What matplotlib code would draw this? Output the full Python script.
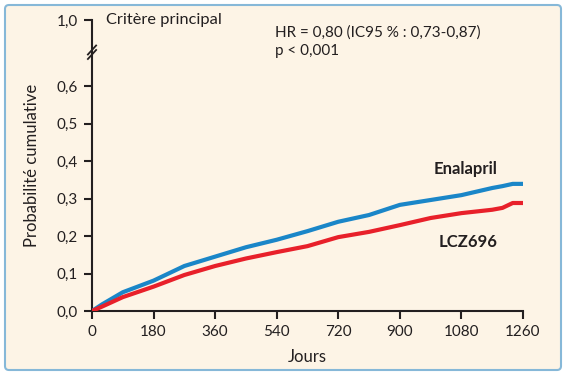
import matplotlib
matplotlib.use("Agg")
import matplotlib.pyplot as plt
from matplotlib.patches import FancyBboxPatch

# valeurs
jours = [0, 30, 90, 180, 270, 360, 450, 540, 630, 720, 810, 900, 990, 1080, 1170, 1200, 1230, 1260]
enalapril = [0.0, 0.018, 0.05, 0.081, 0.12, 0.145, 0.17, 0.19, 0.213, 0.238, 0.256, 0.283, 0.296, 0.309, 0.328, 0.333, 0.339, 0.339]
lcz696 = [0.0, 0.012, 0.037, 0.065, 0.096, 0.12, 0.14, 0.157, 0.173, 0.197, 0.211, 0.229, 0.248, 0.261, 0.27, 0.275, 0.288, 0.288]

xticks = [0, 180, 360, 540, 720, 900, 1080, 1260]
yticks = [0.0, 0.1, 0.2, 0.3, 0.4, 0.5, 0.6]
ytick_labels = ["0,0", "0,1", "0,2", "0,3", "0,4", "0,5", "0,6"]
y_haut = 0.776  # position du tick "1,0" apres la coupure

plt.rcParams['font.family'] = ['Lato', 'DejaVu Sans']
texte = '#231f20'

fig = plt.figure(figsize=(5.67, 3.75), dpi=100)
fig.patch.set_facecolor('white')

# fond + cadre arrondi
fond = fig.add_axes([0, 0, 1, 1], zorder=-1)
fond.set_axis_off()
fond.set_xlim(0, 567)
fond.set_ylim(375, 0)
fond.add_patch(FancyBboxPatch((5, 5), 556, 365,
                              boxstyle="round,pad=0,rounding_size=4",
                              facecolor='#fdf4e6', edgecolor='#86b8d8', linewidth=1.5))

ax = fig.add_axes([92/567, 1 - 311/375, (523-92)/567, (311-20)/375])
ax.set_facecolor('none')

ax.plot(jours, enalapril, color='#1a86c8', lw=3, solid_capstyle='round', zorder=3)
ax.plot(jours, lcz696, color='#e8202a', lw=3, solid_capstyle='round', zorder=3)

ax.set_xlim(0, 1260)
ax.set_ylim(0, y_haut)
ax.set_xticks(xticks)
ax.set_xticklabels([str(t) for t in xticks])
ax.set_yticks(yticks + [y_haut])
ax.set_yticklabels(ytick_labels + ["1,0"])

for s in ['top', 'right']:
    ax.spines[s].set_visible(False)
for s in ['left', 'bottom']:
    ax.spines[s].set_color(texte)
    ax.spines[s].set_linewidth(1.5)
ax.tick_params(axis='both', direction='out', length=6, width=1.5,
               color=texte, labelcolor=texte, labelsize=11, pad=4)

# marque de coupure de l'axe
for dy in (-0.006, 0.006):
    ax.plot([-12, 12], [0.690 + dy - 0.012, 0.690 + dy + 0.012], color=texte,
            lw=1.3, clip_on=False, zorder=5)

ax.set_xlabel("Jours", fontsize=12, color=texte, labelpad=7)
ax.set_ylabel("Probabilité cumulative", fontsize=12, color=texte, labelpad=12)

ax.text(42, y_haut, "Critère principal", fontsize=11.8, color=texte, va='center', ha='left')
ax.text(535, 0.743, "HR = 0,80 (IC95 % : 0,73-0,87)", fontsize=11, color=texte, va='center')
ax.text(535, 0.694, "p < 0,001", fontsize=11, color=texte, va='center')
ax.text(1185, 0.378, "Enalapril", fontsize=12, fontweight='bold', color=texte, ha='right', va='center')
ax.text(1185, 0.185, "LCZ696", fontsize=12, fontweight='bold', color=texte, ha='right', va='center')

fig.savefig("out.png", dpi=100, facecolor=fig.get_facecolor())
